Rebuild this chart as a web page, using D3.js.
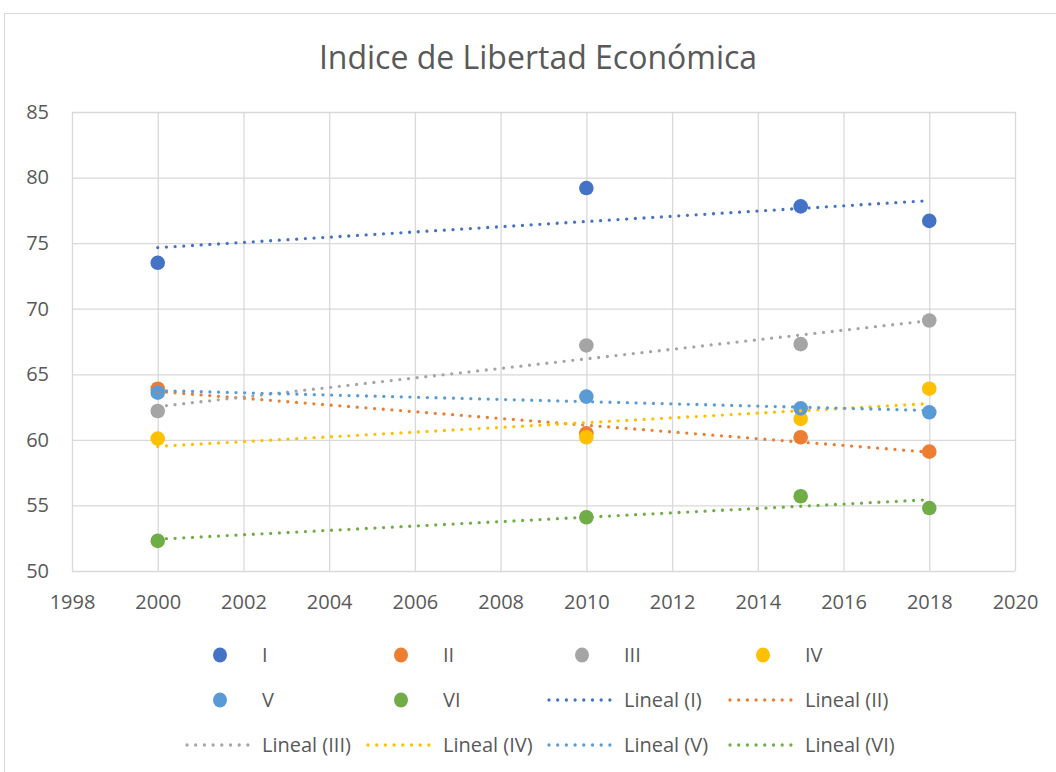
<!DOCTYPE html>
<html>
<head>
<meta charset="utf-8">
<script src="https://cdn.jsdelivr.net/npm/d3@7/dist/d3.min.js"></script>
<style>
  body { margin: 0; background: #fff; }
  text { font-family: "Open Sans", sans-serif; fill: #595959; }
</style>
</head>
<body>
<div id="chart"></div>
<script>
// data
const years = [2000, 2010, 2015, 2018];
const seriesNames = ["I", "II", "III", "IV", "V", "VI"];
const valuesI   = [73.5, 79.2, 77.8, 76.7];
const valuesII  = [63.9, 60.5, 60.2, 59.1];
const valuesIII = [62.2, 67.2, 67.3, 69.1];
const valuesIV  = [60.1, 60.2, 61.6, 63.9];
const valuesV   = [63.6, 63.3, 62.4, 62.1];
const valuesVI  = [52.3, 54.1, 55.7, 54.8];
const xTicks = [1998, 2000, 2002, 2004, 2006, 2008, 2010, 2012, 2014, 2016, 2018, 2020];
const yTicks = [50, 55, 60, 65, 70, 75, 80, 85];

const colors = ["#4472C4", "#ED7D31", "#A5A5A5", "#FFC000", "#5B9BD5", "#70AD47"];
const allValues = [valuesI, valuesII, valuesIII, valuesIV, valuesV, valuesVI];

const series = seriesNames.map((name, i) => ({
  name: name,
  color: colors[i],
  points: years.map((yr, j) => ({ x: yr, y: allValues[i][j] }))
}));

// least squares fit, like Excel's "Lineal" trendline
function linearFit(pts) {
  const mx = d3.mean(pts, d => d.x);
  const my = d3.mean(pts, d => d.y);
  const sxy = d3.sum(pts, d => (d.x - mx) * (d.y - my));
  const sxx = d3.sum(pts, d => (d.x - mx) * (d.x - mx));
  const slope = sxy / sxx;
  return x => my + slope * (x - mx);
}

const W = 1056, H = 772;
const margin = { top: 112, left: 72 };
const width = 1015 - 72;
const height = 571 - 112;

const svg = d3.select("#chart").append("svg")
  .attr("width", W)
  .attr("height", H);

// chart frame
svg.append("rect")
  .attr("x", 4.5).attr("y", 13.5)
  .attr("width", 1200).attr("height", 900)
  .attr("fill", "#fff")
  .attr("stroke", "#D9D9D9");

svg.append("text")
  .attr("x", 538)
  .attr("y", 69)
  .attr("text-anchor", "middle")
  .style("font-size", "32px")
  .text("Indice de Libertad Económica");

const g = svg.append("g")
  .attr("transform", `translate(${margin.left}, ${margin.top})`);

const x = d3.scaleLinear().domain([1998, 2020]).range([0, width]);
const y = d3.scaleLinear().domain([50, 85]).range([height, 0]);

// axes with gridlines
const xAxis = g.append("g")
  .attr("transform", `translate(0, ${height})`)
  .call(d3.axisBottom(x).tickValues(xTicks).tickFormat(d3.format("d"))
    .tickSizeInner(-height).tickSizeOuter(0).tickPadding(24));

const yAxis = g.append("g")
  .call(d3.axisLeft(y).tickValues(yTicks)
    .tickSizeInner(-width).tickSizeOuter(0).tickPadding(23));

[xAxis, yAxis].forEach(ax => {
  ax.select(".domain").remove();
  ax.selectAll("line").attr("stroke", "#D9D9D9").attr("stroke-width", 1.3);
  ax.selectAll("text").style("font-size", "20px").style("font-family", "Open Sans, sans-serif").attr("fill", "#595959");
});

// markers
series.forEach(s => {
  g.append("g").selectAll("circle")
    .data(s.points)
    .enter()
    .append("circle")
    .attr("cx", d => x(d.x))
    .attr("cy", d => y(d.y))
    .attr("r", 7.3)
    .attr("fill", s.color);
});

// trendlines on top
const xMin = d3.min(years), xMax = d3.max(years);
series.forEach(s => {
  const f = linearFit(s.points);
  g.append("line")
    .attr("x1", x(xMin)).attr("y1", y(f(xMin)))
    .attr("x2", x(xMax)).attr("y2", y(f(xMax)))
    .attr("stroke", s.color)
    .attr("stroke-width", 3.3)
    .attr("stroke-linecap", "round")
    .attr("stroke-dasharray", "0 8.7");
});

// legend: 4 columns, 3 rows
const legendItems = series.map(s => ({ type: "marker", label: s.name, color: s.color }))
  .concat(series.map(s => ({ type: "line", label: `Lineal (${s.name})`, color: s.color })));
const colX = [186, 367, 548, 729];
const rowY = [655, 700, 745];

const legend = svg.append("g");
legendItems.forEach((item, i) => {
  const cx = colX[i % 4];
  const cy = rowY[Math.floor(i / 4)];
  const it = legend.append("g");
  if (item.type === "marker") {
    it.append("ellipse")
      .attr("cx", cx + 34).attr("cy", cy)
      .attr("rx", 7).attr("ry", 7.5)
      .attr("fill", item.color);
  } else {
    it.append("line")
      .attr("x1", cx + 1).attr("y1", cy)
      .attr("x2", cx + 62).attr("y2", cy)
      .attr("stroke", item.color)
      .attr("stroke-width", 3.3)
      .attr("stroke-linecap", "round")
      .attr("stroke-dasharray", "0 8.7");
  }
  it.append("text")
    .attr("x", cx + 76)
    .attr("y", cy + 7)
    .style("font-size", "20px")
    .text(item.label);
});
</script>
</body>
</html>
